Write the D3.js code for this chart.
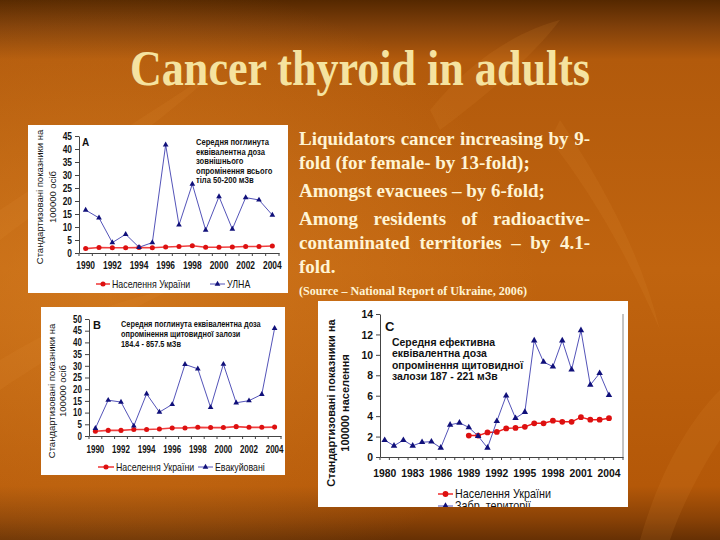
<!DOCTYPE html>
<html>
<head>
<meta charset="utf-8">
<script src="https://cdn.jsdelivr.net/npm/d3@7.9.0/dist/d3.min.js"></script>
<style>
  html, body { margin: 0; padding: 0; background: #b85c0c; }
  svg { display: block; }
</style>
</head>
<body>
<svg id="slide" width="720" height="540"></svg>
<script>
// ---- data ----
const yearsA = [1990, 1991, 1992, 1993, 1994, 1995, 1996, 1997, 1998, 1999, 2000, 2001, 2002, 2003, 2004];
const ulnaA = [16.5, 13.5, 4.0, 7.2, 2.2, 4.0, 41.6, 10.8, 26.5, 8.8, 21.7, 9.2, 21.3, 20.4, 14.6];
const ukraineA = [1.7, 2.1, 2.0, 2.0, 2.1, 2.0, 2.3, 2.5, 2.8, 2.2, 2.2, 2.3, 2.5, 2.5, 2.7];
const xLabelsA = [1990, 1992, 1994, 1996, 1998, 2000, 2002, 2004];
const yTicksA = [0, 5, 10, 15, 20, 25, 30, 35, 40, 45];

const yearsB = [1990, 1991, 1992, 1993, 1994, 1995, 1996, 1997, 1998, 1999, 2000, 2001, 2002, 2003, 2004];
const evacB = [3.3, 15.3, 14.5, 4.3, 18.0, 10.2, 13.5, 30.6, 28.7, 12.2, 30.7, 14.2, 15.1, 17.8, 46.0];
const ukraineB = [2.0, 2.4, 2.4, 2.8, 2.8, 3.0, 3.4, 3.4, 3.7, 3.6, 3.6, 4.0, 3.7, 3.7, 3.8];
const xLabelsB = [1990, 1992, 1994, 1996, 1998, 2000, 2002, 2004];
const yTicksB = [0, 5, 10, 15, 20, 25, 30, 35, 40, 45, 50];

// C axis has one empty category after 2004
const yearsC = [1980, 1981, 1982, 1983, 1984, 1985, 1986, 1987, 1988, 1989, 1990, 1991, 1992,
  1993, 1994, 1995, 1996, 1997, 1998, 1999, 2000, 2001, 2002, 2003, 2004, 2005];
const zabrC = [1.65, 1.1, 1.65, 1.1, 1.45, 1.5, 0.9, 3.15, 3.35, 2.9, 2.05, 0.9, 3.5,
  6.0, 3.8, 4.4, 11.4, 9.3, 8.85, 11.4, 8.55, 12.4, 7.05, 8.2, 6.05];
const ukraineC = [null, null, null, null, null, null, null, null, null, 2.1, 2.1, 2.4, 2.45,
  2.8, 2.85, 2.95, 3.3, 3.3, 3.55, 3.45, 3.45, 3.9, 3.65, 3.65, 3.8];
const xLabelsC = [1980, 1983, 1986, 1989, 1992, 1995, 1998, 2001, 2004];
const yTicksC = [0, 2, 4, 6, 8, 10, 12, 14];

const svg = d3.select('#slide');
const defs = svg.append('defs');
const SANS = '"Liberation Sans", Arial, sans-serif';
const SERIF = '"Liberation Serif", "Times New Roman", serif';
const BLUE_LINE = '#4040b0';
const BLUE_MARK = '#10107a';
const RED_LINE = '#f04040';
const RED_MARK = '#dd1010';

// ---- background ----
const bg = defs.append('linearGradient').attr('id', 'bg')
  .attr('x1', 0).attr('y1', 0).attr('x2', 0).attr('y2', 1);
[[0, '#552800'], [0.05, '#80400a'], [0.11, '#b25a0c'], [0.5, '#c0640f'], [0.9, '#b45808'], [0.96, '#8a4206'], [1, '#663004']]
  .forEach(([o, c]) => bg.append('stop').attr('offset', o).attr('stop-color', c));
const glow = defs.append('radialGradient').attr('id', 'glow')
  .attr('cx', 0.15).attr('cy', 0.55).attr('r', 0.6);
glow.append('stop').attr('offset', 0).attr('stop-color', '#e08a2a').attr('stop-opacity', 0.5);
glow.append('stop').attr('offset', 1).attr('stop-color', '#e08a2a').attr('stop-opacity', 0);

svg.append('rect').attr('width', 720).attr('height', 540).attr('fill', 'url(#bg)');
svg.append('rect').attr('width', 720).attr('height', 540).attr('fill', 'url(#glow)');

// faint leaf shapes
const leaves = [
  'M0,210 C60,170 140,120 230,60 C150,130 80,180 0,240 Z',
  'M0,360 C50,330 110,300 170,290 C110,320 60,350 0,390 Z',
  'M430,110 C470,60 520,30 560,20 C530,60 480,100 440,130 Z',
  'M640,540 C660,470 690,420 720,390 L720,440 C700,470 680,510 670,540 Z',
  'M560,120 C600,180 640,250 660,330 C630,260 590,190 550,140 Z'
];
svg.append('g').selectAll('path').data(leaves).join('path')
  .attr('d', d => d).attr('fill', '#e8953a').attr('opacity', 0.12);

// ---- title ----
svg.append('text')
  .attr('x', 360).attr('y', 85)
  .attr('text-anchor', 'middle')
  .attr('font-family', SERIF).attr('font-weight', 'bold').attr('font-size', 50)
  .attr('textLength', 460).attr('lengthAdjust', 'spacingAndGlyphs')
  .attr('fill', '#f5e3a0')
  .text('Cancer thyroid in adults');

// ---- right text (word-justified where the slide justifies) ----
const bodyLines = [
  { t: 'Liquidators cancer increasing by 9-', y: 145, just: true },
  { t: 'fold (for female- by 13-fold);', y: 169 },
  { t: 'Amongst evacuees \u2013 by 6-fold;', y: 197 },
  { t: 'Among residents of radioactive-', y: 225, just: true },
  { t: 'contaminated territories \u2013 by 4.1-', y: 249, just: true },
  { t: 'fold.', y: 273 }
];
const textX = 299, textW = 291;
bodyLines.forEach(l => {
  const t = svg.append('text')
    .attr('y', l.y)
    .attr('font-family', SERIF).attr('font-weight', 'bold').attr('font-size', 19)
    .attr('fill', '#fff4d4');
  if (!l.just) { t.attr('x', textX).text(l.t); return; }
  const words = l.t.split(' ');
  const spans = words.map(w => t.append('tspan').text(w));
  const widths = spans.map(s => s.node().getComputedTextLength());
  const gap = (textW - d3.sum(widths)) / (words.length - 1);
  let cur = textX;
  spans.forEach((s, i) => { s.attr('x', cur); cur += widths[i] + gap; });
});
svg.append('text')
  .attr('x', 299).attr('y', 295)
  .attr('font-family', SERIF).attr('font-weight', 'bold').attr('font-size', 11.5)
  .attr('textLength', 228).attr('lengthAdjust', 'spacingAndGlyphs')
  .attr('fill', '#fff4d4')
  .text('(Source \u2013 National Report  of Ukraine, 2006)');

// ---- chart panels ----
function drawPanel(p) {
  const id = 'clip' + p.key;
  defs.append('clipPath').attr('id', id).append('rect')
    .attr('x', p.box[0]).attr('y', p.box[1]).attr('width', p.box[2]).attr('height', p.box[3]);
  const g = svg.append('g').attr('clip-path', `url(#${id})`);
  g.append('rect')
    .attr('x', p.box[0]).attr('y', p.box[1]).attr('width', p.box[2]).attr('height', p.box[3])
    .attr('fill', '#ffffff');

  const x = d3.scaleBand().domain(p.cats).range([p.left, p.right]).padding(0);
  const y = d3.scaleLinear().domain([0, p.yMax]).range([p.y0, p.yTop]);
  const cx = c => x(c) + x.bandwidth() / 2;

  if (p.rightBorder) {
    g.append('line').attr('x1', p.right).attr('x2', p.right).attr('y1', p.yTop).attr('y2', p.y0)
      .attr('stroke', '#888').attr('stroke-width', 1);
  }

  // y axis
  const ya = g.append('g').attr('transform', `translate(${p.left},0)`)
    .call(d3.axisLeft(y).tickValues(p.yTicks).tickSize(4).tickSizeOuter(0).tickPadding(3));
  ya.select('.domain').attr('stroke', '#444');
  ya.selectAll('.tick line').attr('stroke', '#444');
  ya.selectAll('text')
    .attr('font-family', SANS).attr('font-size', p.tickFont).attr('font-weight', 'bold')
    .attr('fill', '#111')
    .attr('transform', `scale(${p.sx},1)`).attr('x', -7 / p.sx);

  // x axis line + labels
  const xa = g.append('g').attr('transform', `translate(0,${p.y0})`)
    .call(d3.axisBottom(x).tickValues(p.xLabels).tickSize(0).tickSizeOuter(0).tickPadding(p.xPad));
  xa.select('.domain').attr('stroke', '#444');
  xa.selectAll('text')
    .attr('font-family', SANS).attr('font-size', p.tickFont).attr('font-weight', 'bold')
    .attr('fill', '#111')
    .attr('transform', `scale(${p.sx},1)`);
  // category boundary ticks
  const bounds = p.cats.map(c => x(c)).concat([p.right]);
  g.append('g').selectAll('line').data(bounds).join('line')
    .attr('x1', d => d).attr('x2', d => d)
    .attr('y1', p.y0).attr('y2', p.y0 + 3)
    .attr('stroke', '#444');

  // series
  p.series.forEach(s => {
    const pts = s.values.map((v, i) => ({ c: p.cats[i], v }));
    const line = d3.line().defined(d => d.v != null).x(d => cx(d.c)).y(d => y(d.v));
    g.append('path').datum(pts)
      .attr('d', line).attr('fill', 'none')
      .attr('stroke', s.lineColor).attr('stroke-width', s.width);
    const sym = d3.symbol().type(s.marker === 'tri' ? d3.symbolTriangle : d3.symbolCircle).size(s.size);
    g.append('g').selectAll('path').data(pts.filter(d => d.v != null)).join('path')
      .attr('d', sym)
      .attr('transform', d => `translate(${cx(d.c)},${y(d.v)})`)
      .attr('fill', s.markColor);
  });

  // panel letter
  g.append('text').attr('x', p.letter[1]).attr('y', p.letter[2])
    .attr('font-family', SANS).attr('font-weight', 'bold').attr('font-size', p.letter[3])
    .attr('fill', '#111').text(p.letter[0]);

  // annotation
  p.note.lines.forEach((t, i) => {
    g.append('text')
      .attr('transform', `translate(${p.note.x},${p.note.y + i * p.note.step}) scale(${p.sx},1)`)
      .attr('font-family', SANS).attr('font-weight', 'bold').attr('font-size', p.note.size)
      .attr('fill', '#111').text(t);
  });

  // y title
  p.yTitle.lines.forEach((t, i) => {
    g.append('text')
      .attr('transform', `translate(${p.yTitle.xs[i]},${p.yTitle.cy}) rotate(-90)`)
      .attr('text-anchor', 'middle').attr('dy', '0.35em')
      .attr('font-family', SANS).attr('font-size', p.yTitle.size)
      .attr('font-weight', p.yTitle.weight)
      .attr('fill', '#111').text(t);
  });

  // legend
  p.legend.forEach(l => {
    const s = p.series[l.s];
    g.append('line').attr('x1', l.x).attr('x2', l.x + l.len).attr('y1', l.y).attr('y2', l.y)
      .attr('stroke', s.lineColor).attr('stroke-width', s.width);
    g.append('path')
      .attr('d', d3.symbol().type(s.marker === 'tri' ? d3.symbolTriangle : d3.symbolCircle).size(s.size))
      .attr('transform', `translate(${l.x + l.len / 2},${l.y})`)
      .attr('fill', s.markColor);
    g.append('text')
      .attr('transform', `translate(${l.x + l.len + 2},${l.y}) scale(${p.sx},1)`)
      .attr('dy', '0.35em')
      .attr('font-family', SANS).attr('font-size', l.size)
      .attr('fill', '#111').text(l.text);
  });
}

drawPanel({
  key: 'A', box: [28, 125, 260, 168],
  cats: yearsA, left: 79, right: 279, y0: 253, yTop: 136, yMax: 45,
  yTicks: yTicksA, xLabels: xLabelsA, tickFont: 10.5, sx: 0.8, xPad: 9,
  series: [
    { values: ukraineA, lineColor: RED_LINE, markColor: RED_MARK, width: 1.6, marker: 'circle', size: 20 },
    { values: ulnaA, lineColor: BLUE_LINE, markColor: BLUE_MARK, width: 0.9, marker: 'tri', size: 14 }
  ],
  letter: ['A', 82, 146, 10],
  note: { x: 196, y: 145, step: 9.5, size: 9.5,
    lines: ['Середня поглинута', 'еквівалентна доза', 'зовнішнього', 'опромінення всього', 'тіла 50-200 мЗв'] },
  yTitle: { xs: [40, 53], cy: 197, size: 9.5, weight: 'normal',
    lines: ['Стандартизовані показники на', '100000 осіб'] },
  legend: [
    { s: 0, x: 96, y: 284, len: 14, text: 'Населення України', size: 11 },
    { s: 1, x: 210, y: 284, len: 15, text: 'УЛНА', size: 11 }
  ]
});

drawPanel({
  key: 'B', box: [41, 307, 244, 168],
  cats: yearsB, left: 89, right: 281, y0: 436, yTop: 319, yMax: 50,
  yTicks: yTicksB, xLabels: xLabelsB, tickFont: 10, sx: 0.8, xPad: 10,
  series: [
    { values: ukraineB, lineColor: RED_LINE, markColor: RED_MARK, width: 1.6, marker: 'circle', size: 20 },
    { values: evacB, lineColor: BLUE_LINE, markColor: BLUE_MARK, width: 0.9, marker: 'tri', size: 14 }
  ],
  letter: ['B', 93, 329, 11],
  note: { x: 121, y: 327, step: 9.8, size: 9.2,
    lines: ['Середня поглинута еквівалентна доза', 'опромінення щитовидної залози', '184.4 - 857.5 мЗв'] },
  yTitle: { xs: [52, 63], cy: 391, size: 9.5, weight: 'normal',
    lines: ['Стандартизовані показники на', '100000 осіб'] },
  legend: [
    { s: 0, x: 98, y: 467, len: 16, text: 'Населення України', size: 11 },
    { s: 1, x: 198, y: 467, len: 15, text: 'Евакуйовані', size: 11 }
  ]
});

drawPanel({
  key: 'C', box: [318, 301, 310, 206],
  cats: yearsC, left: 380, right: 623, y0: 457, yTop: 314, yMax: 14,
  yTicks: yTicksC, xLabels: xLabelsC, tickFont: 11.5, sx: 0.9, xPad: 12, rightBorder: true,
  series: [
    { values: ukraineC, lineColor: '#ee1c1c', markColor: RED_MARK, width: 1.4, marker: 'circle', size: 26 },
    { values: zabrC, lineColor: BLUE_LINE, markColor: BLUE_MARK, width: 0.9, marker: 'tri', size: 18 }
  ],
  letter: ['C', 385, 331, 13],
  note: { x: 392, y: 346, step: 11.3, size: 11.6,
    lines: ['Середня ефективна', 'еквівалентна доза', 'опромінення щитовидної', 'залози 187 - 221 мЗв'] },
  yTitle: { xs: [331, 345], cy: 403, size: 11, weight: 'bold',
    lines: ['Стандартизовані показники на', '100000 населення'] },
  legend: [
    { s: 0, x: 438, y: 494, len: 15, text: 'Населення України', size: 12 },
    { s: 1, x: 438, y: 506, len: 15, text: 'Забр. території', size: 12 }
  ]
});
</script>
</body>
</html>
